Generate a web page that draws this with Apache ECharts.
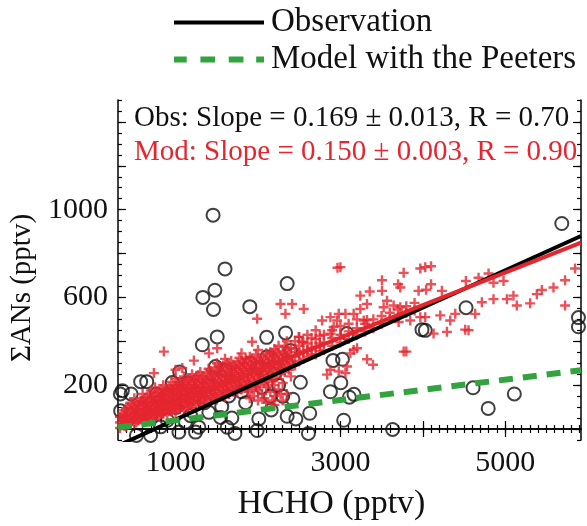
<!DOCTYPE html>
<html>
<head>
<meta charset="utf-8">
<script src="https://cdn.jsdelivr.net/npm/echarts@6/dist/echarts.min.js"></script>
<style>
  html, body { margin: 0; padding: 0; background: #fff; }
  #chart { width: 587px; height: 526px; }
</style>
</head>
<body>
<div id="chart"></div>
<script>
// axis ranges and tick labels
const xRange = [300, 5920]
const yRange = [-50, 1500]
const xLabels = [1000, 3000, 5000]
const yLabels = [200, 600, 1000]

// fitted lines (HCHO, ANs) read at the frame edges
const obsFit = [[300, -76], [5920, 880]]
const modFit = [[300, 16], [5920, 850]]
const peetersFit = [[300, 7], [5920, 268]]

// observations: [HCHO, ANs]
const obsPoints = [
  [1455, 975], [5687, 937], [1600, 730], [2354, 663], [1477, 633], [1331, 600],
  [1901, 558], [1460, 545], [4525, 553], [5889, 508], [5889, 466], [3990, 453],
  [1505, 420], [1325, 384], [2105, 418], [2335, 438], [3081, 435], [2394, 358],
  [2910, 312], [3025, 318], [1485, 285], [1600, 268], [1900, 300], [2111, 330],
  [2515, 213], [3005, 211], [2879, 170], [3109, 145], [3165, 158], [4610, 188],
  [5111, 160], [4794, 94], [3634, -2], [3040, 40], [2628, 72], [2612, -20],
  [2460, 46], [2354, 58], [2300, 150], [2424, 136], [2160, 87], [2010, 46],
  [1990, -7], [1720, -20], [1626, 8], [1683, 50], [1545, 53], [1560, 102],
  [1242, -14], [1121, 31], [1040, -14], [960, 212], [1150, 210], [576, 216],
  [650, 216], [354, 175], [460, 160], [333, 83], [768, 160], [899, 150],
  [697, -29], [818, 10], [525, -29], [1000, 98], [1182, 61], [1283, 8],
  [1404, 76], [1646, 151], [4030, 450], [700, 60], [850, 100], [1100, 130],
  [1250, 160], [1350, 120], [1700, 200], [1800, 170], [1950, 230], [2050, 190],
  [2200, 250], [2250, 200], [1750, 250], [1400, 200], [900, 40], [600, 90],
  [1050, 260], [1850, 120], [2000, 280], [2150, 150], [2350, 300], [330, 160]
]

// model: [HCHO, ANs]
const modPoints = [
  [2965, 735], [3000, 738], [3970, 732], [4030, 738], [4100, 742], [3768, 712],
  [3505, 678], [3700, 660], [3727, 645], [3949, 630], [4100, 660], [4040, 635],
  [4232, 630], [4523, 675], [4677, 690], [4798, 709], [4858, 667], [4980, 675],
  [5848, 732], [5727, 678], [5586, 645], [5445, 634], [5384, 615], [5303, 573],
  [5727, 563], [5100, 608], [5021, 592], [5141, 563], [4858, 592], [4717, 578],
  [4636, 525], [4394, 525], [4333, 495], [4515, 453], [4555, 450], [4293, 443],
  [4131, 435], [4212, 518], [3970, 510], [4030, 510], [3848, 495], [3707, 488],
  [3727, 555], [3646, 563], [3525, 555], [3323, 570], [3242, 547], [3161, 525],
  [3061, 525], [2980, 525], [3242, 608], [3356, 627], [3505, 630], [3566, 585],
  [2879, 510], [2960, 495], [2919, 465], [2778, 495], [2879, 435], [3283, 495],
  [3323, 497], [3161, 360], [3202, 368], [3121, 345], [3323, 318], [3396, 293],
  [3768, 353], [3800, 353], [3081, 285], [2980, 263], [3061, 255], [2879, 270],
  [2839, 248], [2273, 570], [2414, 570], [2333, 525], [2555, 547], [1990, 503],
  [1929, 398], [1404, 345], [1505, 368], [858, 353], [737, 255], [1081, 278],
  [1000, 270], [1222, 312], [503, 68], [515, 83], [576, 128], [2495, 420], [2535, 398],
  [350, 20], [350, 45], [350, 70],
  [400, 10], [400, 40], [400, 60], [400, 95],
  [450, 30], [450, 55], [450, 80], [450, 120],
  [500, 25], [500, 50], [500, 75], [500, 100], [500, 140],
  [550, 40], [550, 65], [550, 90], [550, 110],
  [600, 35], [600, 60], [600, 85], [600, 105], [600, 130], [600, 160],
  [650, 50], [650, 75], [650, 95], [650, 120], [650, 145],
  [700, 45], [700, 70], [700, 90], [700, 115], [700, 140], [700, 175],
  [750, 60], [750, 85], [750, 105], [750, 130], [750, 150], [750, 190],
  [800, 55], [800, 80], [800, 100], [800, 125], [800, 145], [800, 170],
  [850, 70], [850, 95], [850, 115], [850, 135], [850, 160], [850, 200],
  [900, 65], [900, 90], [900, 110], [900, 140], [900, 165], [900, 185],
  [950, 80], [950, 105], [950, 125], [950, 150], [950, 175], [950, 215],
  [1000, 75], [1000, 100], [1000, 120], [1000, 145], [1000, 170], [1000, 195], [1000, 230],
  [1050, 90], [1050, 110], [1050, 135], [1050, 160], [1050, 185], [1050, 210],
  [1100, 85], [1100, 115], [1100, 140], [1100, 165], [1100, 190], [1100, 240],
  [1150, 100], [1150, 125], [1150, 150], [1150, 175], [1150, 200], [1150, 225],
  [1200, 95], [1200, 130], [1200, 155], [1200, 180], [1200, 205], [1200, 250],
  [1250, 110], [1250, 140], [1250, 165], [1250, 190], [1250, 215], [1250, 240],
  [1300, 120], [1300, 145], [1300, 170], [1300, 195], [1300, 225], [1300, 260],
  [1350, 115], [1350, 150], [1350, 180], [1350, 205], [1350, 230],
  [1400, 130], [1400, 160], [1400, 185], [1400, 210], [1400, 240], [1400, 275],
  [1450, 140], [1450, 165], [1450, 195], [1450, 220], [1450, 250],
  [1500, 135], [1500, 175], [1500, 200], [1500, 230], [1500, 260], [1500, 300],
  [1550, 150], [1550, 180], [1550, 210], [1550, 240], [1550, 265],
  [1600, 145], [1600, 190], [1600, 215], [1600, 245], [1600, 275], [1600, 320],
  [1650, 160], [1650, 195], [1650, 225], [1650, 250], [1650, 285],
  [1700, 170], [1700, 205], [1700, 235], [1700, 260], [1700, 290],
  [1750, 165], [1750, 210], [1750, 240], [1750, 270], [1750, 300],
  [1800, 180], [1800, 220], [1800, 250], [1800, 280], [1800, 310], [1800, 345],
  [1850, 190], [1850, 230], [1850, 255], [1850, 290], [1850, 320],
  [1900, 140], [1900, 200], [1900, 240], [1900, 265], [1900, 300], [1900, 330],
  [1950, 150], [1950, 210], [1950, 250], [1950, 275], [1950, 310],
  [2000, 130], [2000, 175], [2000, 220], [2000, 260], [2000, 290], [2000, 320], [2000, 360],
  [2050, 160], [2050, 230], [2050, 265], [2050, 300], [2050, 330],
  [2100, 120], [2100, 190], [2100, 240], [2100, 280], [2100, 310], [2100, 345],
  [2150, 170], [2150, 250], [2150, 290], [2150, 320], [2150, 350],
  [2200, 110], [2200, 150], [2200, 200], [2200, 260], [2200, 300], [2200, 330], [2200, 365],
  [2250, 180], [2250, 270], [2250, 305], [2250, 340], [2250, 380],
  [2300, 130], [2300, 210], [2300, 280], [2300, 315], [2300, 350],
  [2350, 160], [2350, 290], [2350, 325], [2350, 360], [2350, 400],
  [2400, 240], [2400, 300], [2400, 335], [2400, 370],
  [2500, 310], [2500, 345], [2500, 380], [2500, 420],
  [2600, 330], [2600, 360], [2600, 390], [2600, 430],
  [2700, 340], [2700, 375], [2700, 410], [2700, 450],
  [2800, 360], [2800, 395], [2800, 430],
  [2900, 380], [2900, 415], [2900, 450],
  [3000, 395], [3000, 430], [3000, 470],
  [3100, 410], [3100, 445], [3100, 480],
  [3200, 430], [3200, 460], [3200, 500],
  [3300, 445], [3300, 480], [3400, 460], [3400, 500],
  [3500, 480], [3500, 515], [3600, 500], [3600, 530],
  [3700, 510], [3700, 545], [3800, 530], [3800, 560],
  [3900, 540], [3900, 575],
  [325, 5], [325, 30], [325, 55],
  [375, 15], [375, 35], [375, 65], [375, 85],
  [425, 20], [425, 45], [425, 70], [425, 100],
  [475, 35], [475, 60], [475, 90], [475, 110],
  [525, 30], [525, 55], [525, 85], [525, 120],
  [575, 45], [575, 70], [575, 95], [575, 125],
  [625, 40], [625, 65], [625, 90], [625, 115], [625, 140],
  [675, 55], [675, 80], [675, 105], [675, 130], [675, 160],
  [725, 50], [725, 75], [725, 100], [725, 125], [725, 150],
  [775, 65], [775, 90], [775, 115], [775, 140], [775, 165],
  [825, 75], [825, 100], [825, 120], [825, 150], [825, 180],
  [875, 80], [875, 105], [875, 130], [875, 155], [875, 175],
  [925, 85], [925, 110], [925, 135], [925, 160], [925, 190],
  [975, 90], [975, 115], [975, 140], [975, 165], [975, 200],
  [1025, 95], [1025, 125], [1025, 150], [1025, 175], [1025, 200],
  [1075, 100], [1075, 130], [1075, 155], [1075, 180], [1075, 215],
  [1125, 110], [1125, 135], [1125, 160], [1125, 185], [1125, 210],
  [1175, 115], [1175, 140], [1175, 170], [1175, 195], [1175, 230],
  [1225, 120], [1225, 150], [1225, 175], [1225, 200], [1225, 225],
  [1275, 125], [1275, 155], [1275, 180], [1275, 210], [1275, 245],
  [1325, 135], [1325, 165], [1325, 190], [1325, 215], [1325, 240],
  [1375, 140], [1375, 170], [1375, 195], [1375, 225], [1375, 255],
  [1425, 150], [1425, 180], [1425, 205], [1425, 235], [1425, 265],
  [1475, 155], [1475, 185], [1475, 215], [1475, 245], [1475, 280],
  [1525, 160], [1525, 195], [1525, 220], [1525, 250], [1525, 285],
  [1575, 170], [1575, 200], [1575, 230], [1575, 260], [1575, 290],
  [1625, 175], [1625, 210], [1625, 240], [1625, 265], [1625, 300],
  [1675, 180], [1675, 215], [1675, 245], [1675, 275], [1675, 310],
  [1725, 190], [1725, 225], [1725, 255], [1725, 285],
  [1775, 195], [1775, 230], [1775, 260], [1775, 290], [1775, 325],
  [1825, 205], [1825, 240], [1825, 270], [1825, 300],
  [1875, 170], [1875, 215], [1875, 250], [1875, 280], [1875, 310],
  [1925, 180], [1925, 225], [1925, 255], [1925, 290], [1925, 320],
  [1975, 190], [1975, 235], [1975, 265], [1975, 300], [1975, 340],
  [2025, 200], [2025, 245], [2025, 280], [2025, 310],
  [2075, 140], [2075, 210], [2075, 255], [2075, 290], [2075, 320],
  [2125, 215], [2125, 265], [2125, 300], [2125, 335],
  [2175, 130], [2175, 225], [2175, 275], [2175, 310], [2175, 345],
  [2225, 235], [2225, 285], [2225, 320], [2225, 355],
  [2275, 160], [2275, 250], [2275, 295], [2275, 330],
  [2325, 260], [2325, 305], [2325, 340], [2325, 375],
  [2375, 270], [2375, 315], [2375, 350],
  [2450, 290], [2450, 330], [2450, 365], [2450, 400],
  [2550, 320], [2550, 355], [2550, 395],
  [2650, 340], [2650, 370], [2650, 415],
  [2750, 355], [2750, 390], [2750, 425]
]

const serif = '"Liberation Serif", "Times New Roman", serif'
const red = '#e5262f'
const green = '#33a33f'

function steps(from, to, step) {
  let out = []
  for (let v = from; v <= to; v += step) out.push(v)
  return out
}

// one axis per tick size and side, all on the same range
function makeAxis(range, pos, ticks, len, withLine, labels) {
  return {
    type: 'value',
    min: range[0],
    max: range[1],
    position: pos,
    axisLine: { show: withLine, lineStyle: { color: '#000', width: 1.5 } },
    axisTick: { show: true, inside: true, length: len, customValues: ticks, lineStyle: { color: '#000', width: 1.2 } },
    axisLabel: labels
      ? { show: true, customValues: labels, formatter: v => String(v), fontFamily: serif, fontSize: 30, color: '#111', margin: 8 }
      : { show: false },
    splitLine: { show: false }
  }
}

let xBottom = makeAxis(xRange, 'bottom', steps(1000, 5000, 1000), 8, true, xLabels)
xBottom.name = 'HCHO (pptv)'
xBottom.nameLocation = 'middle'
xBottom.nameGap = 47
xBottom.nameTextStyle = { fontFamily: serif, fontSize: 34, color: '#111', padding: [0, 36, 0, 0] }

let yLeft = makeAxis(yRange, 'left', steps(0, 1400, 200), 8, true, yLabels)
yLeft.axisLabel.margin = 10
yLeft.name = 'ΣANs (pptv)'
yLeft.nameLocation = 'middle'
yLeft.nameGap = 68
yLeft.nameTextStyle = { fontFamily: serif, fontSize: 29, color: '#111', padding: [0, 36, 0, 0] }

// legend icons: solid bar and dashed bar, padded so both keep their own thickness
const solidIcon = 'path://M0,0H0.01V0.01H0Z M0,1H92V5H0Z M91.99,5.99H92V6H91.99Z'
const dashIcon = 'path://M0,0H13V6H0Z M27,0H42V6H27Z M56,0H71V6H56Z M84,0H92V6H84Z'

let option = {
  animation: false,
  backgroundColor: '#fff',
  grid: { left: 117, right: 6, top: 100, bottom: 82 },
  legend: {
    data: [
      { name: 'Observation', icon: solidIcon },
      { name: 'Model with the Peeters', icon: dashIcon }
    ],
    orient: 'vertical',
    left: 169,
    top: 1,
    itemWidth: 90,
    itemHeight: 6,
    itemGap: 4,
    selectedMode: false,
    textStyle: { fontFamily: serif, fontSize: 33, color: '#111', padding: [0, 0, 0, 2] }
  },
  graphic: [
    { type: 'text', left: 134, top: 104, style: { text: 'Obs: Slope = 0.169 ± 0.013, R = 0.70', font: '29px ' + serif, fill: '#111' } },
    { type: 'text', left: 134, top: 138, style: { text: 'Mod: Slope = 0.150 ± 0.003, R = 0.90', font: '29px ' + serif, fill: red } }
  ],
  xAxis: [
    xBottom,
    makeAxis(xRange, 'bottom', steps(400, 5900, 100), 4, false),
    makeAxis(xRange, 'top', steps(1000, 5000, 1000), 8, true),
    makeAxis(xRange, 'top', steps(400, 5900, 100), 4, false)
  ],
  yAxis: [
    yLeft,
    makeAxis(yRange, 'left', steps(-50, 1500, 50), 4, false),
    makeAxis(yRange, 'right', steps(0, 1400, 200), 8, true),
    makeAxis(yRange, 'right', steps(-50, 1500, 50), 4, false)
  ],
  series: [
    {
      name: 'obs', type: 'scatter', data: obsPoints, symbol: 'circle', symbolSize: 13,
      itemStyle: { color: 'rgba(0,0,0,0)', borderColor: '#111', borderWidth: 2 }
    },
    {
      name: 'mod', type: 'scatter', data: modPoints,
      symbol: 'path://M3.8,0H6.2V3.8H10V6.2H6.2V10H3.8V6.2H0V3.8H3.8Z', symbolSize: 10,
      itemStyle: { color: red }
    },
    {
      name: 'Observation', type: 'line', data: obsFit, symbol: 'none', clip: true,
      lineStyle: { color: '#000', width: 4 }, itemStyle: { color: '#000' }
    },
    {
      name: 'modFit', type: 'line', data: modFit, symbol: 'none', clip: true,
      lineStyle: { color: red, width: 4 }
    },
    {
      name: 'Model with the Peeters', type: 'line', data: peetersFit, symbol: 'none', clip: true,
      lineStyle: { color: green, width: 6, type: [14, 10] }, itemStyle: { color: green }
    }
  ]
}

let chart = echarts.init(document.getElementById('chart'))
chart.setOption(option)
</script>
</body>
</html>
